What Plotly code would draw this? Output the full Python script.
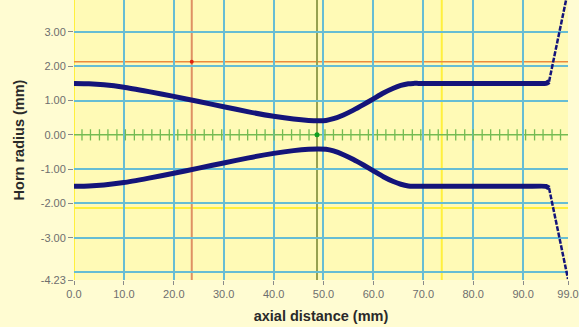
import plotly.graph_objects as go

# ---- data ----
axial_mm = [0, 3, 6, 10, 15, 20, 25, 30, 35, 40, 44, 47, 49, 50.5, 52, 54, 56, 58, 60, 62, 64, 65.5, 67, 68, 69,
            72, 76, 80, 84, 88, 91, 94.6, 95.2]
radius_mm = [1.5, 1.49, 1.46, 1.39, 1.26, 1.12, 0.97, 0.82, 0.67, 0.54, 0.46, 0.42, 0.41, 0.42, 0.47, 0.58, 0.72,
             0.88, 1.05, 1.22, 1.36, 1.44, 1.49, 1.5, 1.5, 1.5, 1.5, 1.5, 1.5, 1.5, 1.5, 1.5, 1.55]
flare_x = [95.2, 99.0]
flare_r = [1.55, 4.2]

node_x = [1.6, 3.3, 5.1, 6.8, 8.6, 10.3, 12.1, 13.8, 15.6, 17.3, 19.1, 20.8, 22.6, 24.3,
          26.1, 27.8, 29.6, 31.3, 33.1, 34.8, 36.6, 38.3, 40.1, 41.8, 43.6, 45.3, 47.1,
          50.3, 52.0, 53.8, 55.5, 57.3, 59.0, 60.8, 62.5, 64.3, 66.0, 67.8, 69.5, 71.3,
          73.0, 74.8, 76.5, 78.3, 80.0, 81.8, 83.5, 85.3, 87.0, 88.8, 90.5, 92.3, 94.0,
          95.8, 97.5]

x_tick_vals = [0, 10, 20, 30, 40, 50, 60, 70, 80, 90, 99]
x_tick_text = ["0.0", "10.0", "20.0", "30.0", "40.0", "50.0", "60.0", "70.0", "80.0", "90.0", "99.0"]
x_grid = [10, 20, 30, 40, 50, 60, 70, 80, 90]
y_tick_vals = [-4.23, -3, -2, -1, 0, 1, 2, 3]
y_tick_text = ["-4.23", "-3.00", "-2.00", "-1.00", "0.00", "1.00", "2.00", "3.00"]
y_grid = [-4, -3, -2, -1, 1, 2, 3]

x_range = [0, 99]
y_range = [-4.23, 3.93]

cursor_red = (23.6, 2.13)
cursor_green = (48.7, 0.0)
yellow_x = [0.0, 73.7]
yellow_y = [-2.13]

NAVY = "#14147a"
GRID = "#66bdd4"
YEL = "#fff03c"
TITLE_FONT = dict(size=14.5, color="#2a2a2a", family="Liberation Sans, Arial, sans-serif", weight="bold")

fig = go.Figure()

shapes = []
for xv in yellow_x:
    shapes.append(dict(type="line", xref="x", yref="paper", x0=xv, x1=xv, y0=0, y1=1,
                       line=dict(color=YEL, width=2), layer="below"))
for yv in yellow_y:
    shapes.append(dict(type="line", xref="paper", yref="y", x0=0, x1=1, y0=yv, y1=yv,
                       line=dict(color=YEL, width=2), layer="below"))
shapes.append(dict(type="line", xref="x", yref="paper", x0=cursor_red[0], x1=cursor_red[0], y0=0, y1=1,
                   line=dict(color="#df9063", width=2), layer="below"))
shapes.append(dict(type="line", xref="paper", yref="y", x0=0, x1=1, y0=cursor_red[1], y1=cursor_red[1],
                   line=dict(color="#eb8a3e", width=1.6), layer="below"))
shapes.append(dict(type="line", xref="x", yref="paper", x0=cursor_green[0], x1=cursor_green[0], y0=0, y1=1,
                   line=dict(color="#97a150", width=2), layer="below"))
shapes.append(dict(type="line", xref="paper", yref="y", x0=0, x1=1, y0=0, y1=0,
                   line=dict(color="#74bb52", width=1.5), layer="below"))

fig.add_trace(go.Scatter(x=node_x, y=[0] * len(node_x), mode="markers",
                         marker=dict(symbol="line-ns", size=8, line=dict(color="#74bb52", width=1.3)),
                         hoverinfo="skip"))

LINE = dict(color=NAVY, width=5, shape="spline", smoothing=0.5)
fig.add_trace(go.Scatter(x=axial_mm, y=radius_mm, mode="lines", line=LINE))
fig.add_trace(go.Scatter(x=axial_mm, y=[-r for r in radius_mm], mode="lines", line=LINE))
fig.add_trace(go.Scatter(x=flare_x, y=flare_r, mode="lines", line=dict(color=NAVY, width=2.5, dash="5px,1.5px")))
fig.add_trace(go.Scatter(x=flare_x, y=[-r for r in flare_r], mode="lines", line=dict(color=NAVY, width=2.5, dash="5px,1.5px")))

fig.add_trace(go.Scatter(x=[cursor_red[0]], y=[cursor_red[1]], mode="markers",
                         marker=dict(color="#e02010", size=4)))
fig.add_trace(go.Scatter(x=[cursor_green[0]], y=[cursor_green[1]], mode="markers",
                         marker=dict(color="#10a020", size=5)))

fig.update_layout(
    width=579, height=327,
    margin=dict(l=74, r=11, t=0, b=47),
    paper_bgcolor="#fffcd2",
    plot_bgcolor="#fffab6",
    showlegend=False,
    shapes=shapes,
    font=dict(family="Liberation Sans, Arial, sans-serif", color="#6e6e6e", size=11),
    xaxis=dict(range=x_range, tickmode="array", tickvals=x_tick_vals, ticktext=x_tick_text,
               showgrid=False, zeroline=False, showline=False,
               ticks="outside", ticklen=4, tickcolor="#8a8a8a",
               minor=dict(tickmode="array", tickvals=x_grid, showgrid=True, gridcolor=GRID, gridwidth=1.5, ticks=""),
               title=dict(text="axial distance (mm)", font=TITLE_FONT, standoff=11)),
    yaxis=dict(range=y_range, tickmode="array", tickvals=y_tick_vals, ticktext=y_tick_text,
               showgrid=False, zeroline=False, showline=False,
               ticks="outside", ticklen=5, tickcolor="#8a8a8a",
               minor=dict(tickmode="array", tickvals=y_grid, showgrid=True, gridcolor=GRID, gridwidth=1.5, ticks=""),
               title=dict(text="Horn radius (mm)", font=TITLE_FONT, standoff=12)),
)

fig.write_html("out.html")
